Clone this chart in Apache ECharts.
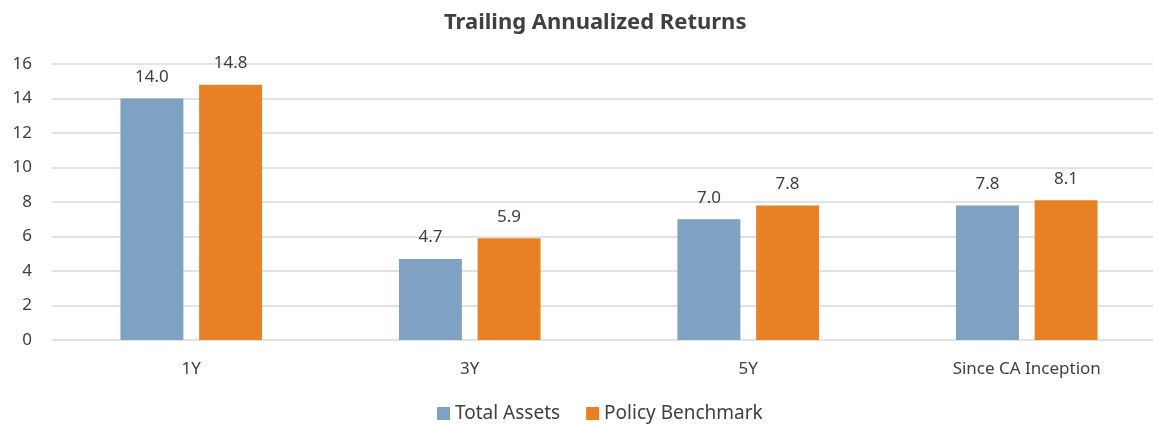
<!DOCTYPE html>
<html style="height: 100%">
<head>
<meta charset="utf-8">
<script src="https://cdn.jsdelivr.net/npm/echarts@6/dist/echarts.min.js"></script>
</head>
<body style="height: 100%; margin: 0; background: #fff;">
<div id="container" style="width: 1153px; height: 425px;"></div>
<script type="text/javascript">
var categories = ['1Y', '3Y', '5Y', 'Since CA Inception'];
var totalAssets = [14.0, 4.7, 7.0, 7.8];
var policyBenchmark = [14.8, 5.9, 7.8, 8.1];
var yTicks = [0, 2, 4, 6, 8, 10, 12, 14, 16];

var fontFamily = '"Noto Sans", sans-serif';
var textColor = '#404040';

var myChart = echarts.init(document.getElementById('container'));
var labelStyle = {
    show: true,
    position: 'top',
    distance: 13,
    color: textColor,
    fontSize: 17,
    fontFamily: fontFamily,
    formatter: function (p) { return p.value.toFixed(1); }
};
var option = {
    animation: false,
    title: {
        text: 'Trailing Annualized Returns',
        left: 439,
        top: 7,
        textStyle: { color: '#404040', fontSize: 22, fontWeight: 'bold', fontFamily: fontFamily }
    },
    color: ['#7FA1C2', '#E88025'],
    legend: {
        top: 399,
        left: 432,
        itemWidth: 13,
        itemHeight: 13,
        itemGap: 26,
        icon: 'rect',
        textStyle: { color: textColor, fontSize: 19, fontFamily: fontFamily }
    },
    grid: { left: 52, width: 1114, top: 64, bottom: 85, outerBoundsMode: 'none', containLabel: false },
    xAxis: {
        type: 'category',
        data: categories,
        axisLine: { show: false },
        axisTick: { show: false },
        axisLabel: { color: textColor, fontSize: 17, fontFamily: fontFamily, margin: 21 }
    },
    yAxis: {
        type: 'value',
        min: yTicks[0],
        max: yTicks[yTicks.length - 1],
        interval: 2,
        axisLine: { show: false },
        axisTick: { show: false },
        axisLabel: { color: textColor, fontSize: 17, fontFamily: fontFamily, margin: 20 },
        splitLine: { lineStyle: { color: '#d9d9d9', width: 1.5 } }
    },
    series: [
        { name: 'Total Assets', type: 'bar', data: totalAssets, barWidth: '22.6%', barGap: '25%', label: labelStyle },
        { name: 'Policy Benchmark', type: 'bar', data: policyBenchmark, barWidth: '22.6%', label: labelStyle }
    ]
};
myChart.setOption(option, true);
</script>
</body>
</html>
